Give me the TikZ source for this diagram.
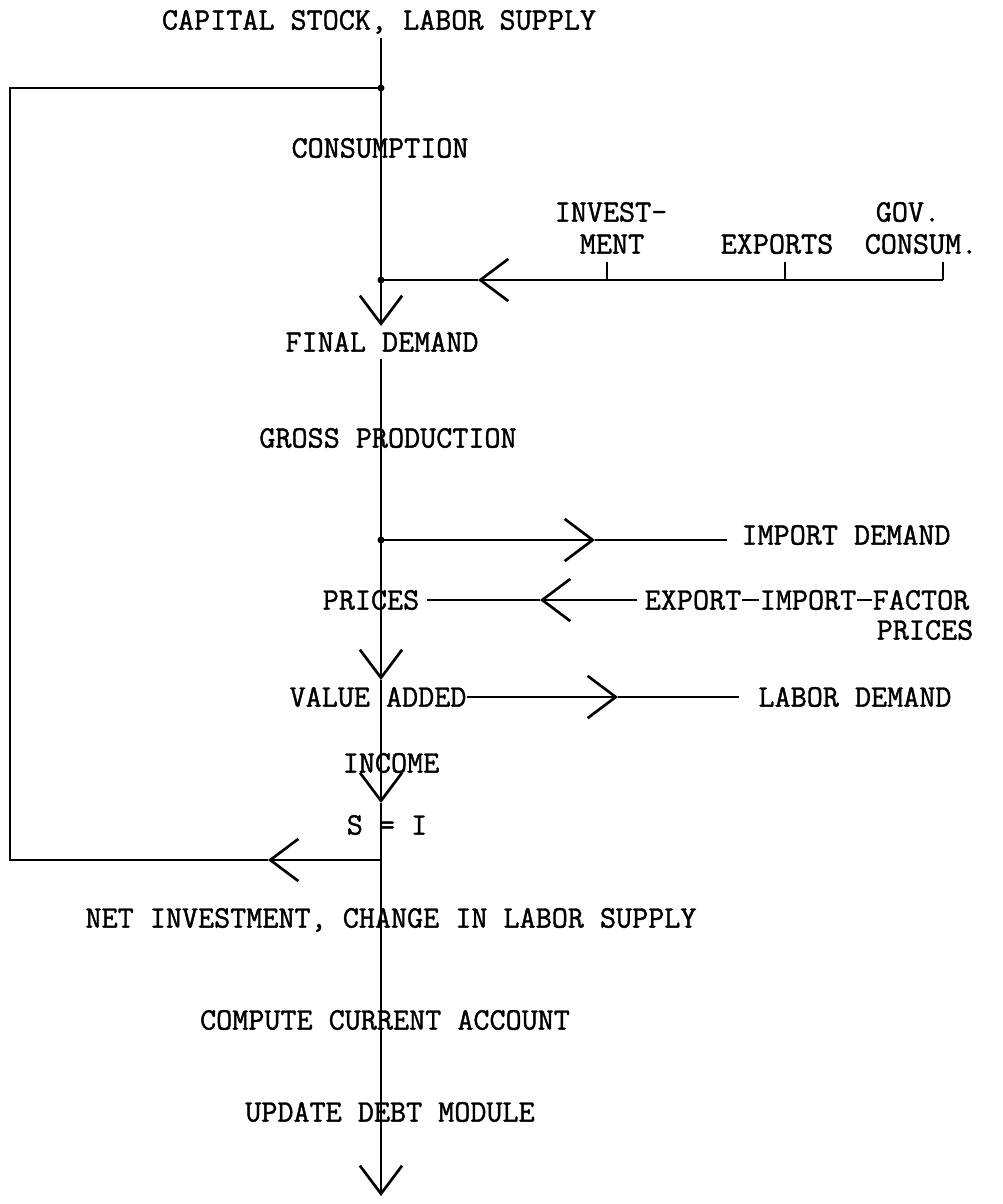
\documentclass[tikz,border=0pt]{standalone}
\usepackage{fontspec}
\newfontfamily\macfont[FakeBold=1.3]{Latin Modern Mono}
\usetikzlibrary{arrows.meta}
\newcommand{\macchina}{\macfont\fontsize{22.2}{26}\selectfont}

\begin{document}
\begin{tikzpicture}[x=0.025cm, y=-0.025cm, >={Straight Barb[length=20pt,width=30pt,line width=1.9pt]}]
% Stili per le voci (testo a macchina) e per le linee
\tikzset{voce/.style={font=\macchina, inner sep=0pt, text height=13.6pt, text depth=0pt},
         linea/.style={line width=1.1pt},
         freccia/.style={linea, ->}}

\useasboundingbox (0,0) rectangle (1003,1204);

% --- VOCI DEL MODELLO ---
\node[voce] (capitale) at (379,20)  {CAPITAL STOCK, LABOR SUPPLY};
\node[voce] (consumo)  at (380,148) {CONSUMPTION};
\node[voce] (inv1)     at (611,212) {INVEST-};
\node[voce] (inv2)     at (612,244) {MENT};
\node[voce] (esp)      at (777,244) {EXPORTS};
\node[voce] (gov1)     at (908,212) {GOV.};
\node[voce] (gov2)     at (921,244) {CONSUM.};
\node[voce] (domanda)  at (382,342) {FINAL DEMAND};
\node[voce] (prod)     at (388,438) {GROSS PRODUCTION};
\node[voce] (domimp)   at (846,535) {IMPORT DEMAND};
\node[voce] (prezzi)   at (371,600) {PRICES};
\node[voce] (pexp)     at (693,600) {EXPORT};
\node[voce] (pimp)     at (808,600) {IMPORT};
\node[voce] (pfat1)    at (921,600) {FACTOR};
\node[voce] (pfat2)    at (925,630) {PRICES};
\node[voce] (valagg)   at (378,697) {VALUE ADDED};
\node[voce] (domlav)   at (855,697) {LABOR DEMAND};
\node[voce] (reddito)  at (391,763) {INCOME};
\node[voce] (risp)     at (387,825) {S = I};
\node[voce] (netinv)   at (391,918) {NET INVESTMENT, CHANGE IN LABOR SUPPLY};
\node[voce] (conto)    at (385,1020) {COMPUTE CURRENT ACCOUNT};
\node[voce] (debito)   at (390,1112) {UPDATE DEBT MODULE};

% Nodi della linea principale e punte delle frecce
\coordinate (inizio) at (381,38);
\coordinate (n1) at (381,88);
\coordinate (n2) at (381,280);
\coordinate (n3) at (381,540);
\coordinate (n4) at (381,860);
\coordinate (fine) at (381,1196);
\coordinate (pDom) at (381,326);
\coordinate (pVal) at (381,680);
\coordinate (pRisp) at (381,803);
\coordinate (pInv) at (478,280);
\coordinate (pImp) at (595,540);
\coordinate (pPr) at (540,600);
\coordinate (pLav) at (618,697);
\coordinate (pRit) at (268,860);
\coordinate (g) at (943,280);
\coordinate (c1) at (10,860);
\coordinate (c2) at (10,88);

% --- LINEA PRINCIPALE ---
\draw[linea] (inizio) -- (n1) -- (n2);
\draw[freccia] (n2) -- (pDom);
\draw[freccia, shorten <=5pt] (domanda.south -| n3) -- (n3) -- (pVal);
\draw[freccia] (pVal) -- (pRisp);
\draw[linea] (pRisp) -- (n4);
\draw[freccia] (n4) -- (fine);

% --- RITORNO (investimento netto) ---
\draw[freccia] (n4) -- (pRit);
\draw[linea] (pRit) -- (c1) -- (c2) -- (n1);

% --- DOMANDA ESOGENA ---
\foreach \x in {607, 785, 943} {
    \draw[linea] (\x,262) -- (\x,280);
    }
\draw[freccia] (g) -- (pInv);
\draw[linea] (pInv) -- (n2);

% --- IMPORTAZIONI, PREZZI, LAVORO ---
\draw[freccia] (n3) -- (pImp);
\draw[linea, shorten >=10pt] (pImp) -- (pImp -| domimp.west);
\draw[freccia, shorten <=5pt] (pexp.west) -- (pPr);
\draw[linea, shorten >=5pt] (pPr) -- (prezzi.east);
\draw[linea] (pexp.east) -- (pimp.west);
\draw[linea] (pimp.east) -- (pfat1.west);
\draw[freccia] (valagg.east) -- (pLav);
\draw[linea, shorten >=14pt] (pLav) -- (domlav.west);

% Punti di diramazione
\fill (n1) circle (3.5);
\fill (n2) circle (3.5);
\fill (n3) circle (3.5);

\end{tikzpicture}
\end{document}
